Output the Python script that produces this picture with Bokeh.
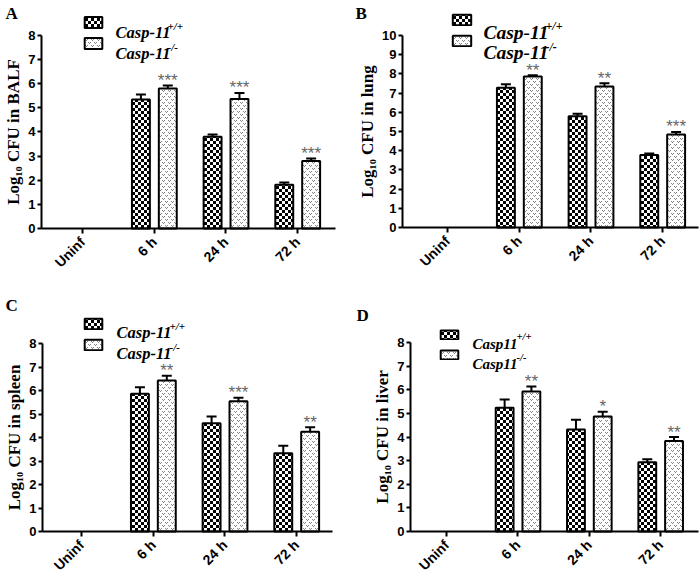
import math
import base64
import struct
import zlib
from bokeh.plotting import figure
from bokeh.layouts import column, row
from bokeh.models import (ColumnDataSource, Whisker, TeeHead, Legend, LegendItem,
                          Label, FixedTicker, ImageURLTexture, Range1d)
from bokeh.core.properties import value
from bokeh.embed import file_html
from bokeh.resources import INLINE

# ---------------- data ----------------
categories = ["Uninf", "6 h", "24 h", "72 h"]
cat_pos = [0, 1, 2, 3]

balf_wt = [0.0, 5.35, 3.80, 1.81]
balf_wt_err = [0.0, 0.20, 0.10, 0.10]
balf_ko = [0.0, 5.80, 5.37, 2.80]
balf_ko_err = [0.0, 0.13, 0.25, 0.10]
balf_sig = ["", "***", "***", "***"]

lung_wt = [0.0, 7.28, 5.80, 3.78]
lung_wt_err = [0.0, 0.18, 0.12, 0.08]
lung_ko = [0.0, 7.86, 7.34, 4.84]
lung_ko_err = [0.0, 0.07, 0.17, 0.14]
lung_sig = ["", "**", "**", "***"]

spleen_wt = [0.0, 5.86, 4.61, 3.33]
spleen_wt_err = [0.0, 0.28, 0.28, 0.32]
spleen_ko = [0.0, 6.43, 5.54, 4.24]
spleen_ko_err = [0.0, 0.20, 0.15, 0.20]
spleen_sig = ["", "**", "***", "**"]

liver_wt = [0.0, 5.24, 4.32, 2.93]
liver_wt_err = [0.0, 0.35, 0.41, 0.13]
liver_ko = [0.0, 5.93, 4.87, 3.83]
liver_ko_err = [0.0, 0.21, 0.20, 0.17]
liver_sig = ["", "**", "*", "**"]

# ---------------- fill textures (tiny PNG tiles) ----------------
PALETTE = {"K": (0, 0, 0), "W": (255, 255, 255), "G": (135, 135, 135)}
checker_tile = ["KKKWWW", "KKKWWW", "KKKWWW", "WWWKKK", "WWWKKK", "WWWKKK"]
dots_tile = ["GWGWWW", "WGWWWW", "WWWWWW", "WWWGWG", "WWWWGW", "WWWWWW"]


def png_uri(tile):
    h = len(tile)
    w = len(tile[0])
    raw = b"".join(b"\x00" + bytes(c for ch in r for c in PALETTE[ch]) for r in tile)

    def chunk(t, d):
        return struct.pack(">I", len(d)) + t + d + struct.pack(">I", zlib.crc32(t + d) & 0xffffffff)

    png = (b"\x89PNG\r\n\x1a\n" + chunk(b"IHDR", struct.pack(">IIBBBBB", w, h, 8, 2, 0, 0, 0))
           + chunk(b"IDAT", zlib.compress(raw)) + chunk(b"IEND", b""))
    return "data:image/png;base64," + base64.b64encode(png).decode()


checker = ImageURLTexture(url=png_uri(checker_tile), repetition="repeat")
dots = ImageURLTexture(url=png_uri(dots_tile), repetition="repeat")

SERIF = "Liberation Serif"
SANS = "Liberation Sans"


def panel(letter, ylabel, ymax, xr, yr, xaxis_bounds, W, H,
          wt, wt_err, ko, ko_err, sig, name,
          leg_loc, glyph_w, glyph_h, leg_spacing,
          txt_x, txt_y, txt_size, sup_x, sup_y, sup_size, letter_xy):
    p = figure(width=W, height=H, x_range=Range1d(*xr), y_range=Range1d(*yr),
               output_backend="svg", toolbar_location=None,
               min_border_left=0, min_border_right=0,
               min_border_top=0, min_border_bottom=0)
    p.outline_line_color = None
    p.grid.visible = False
    p.background_fill_color = "white"
    p.border_fill_color = "white"

    idx = [i for i in range(len(cat_pos)) if wt[i] > 0]
    src_wt = ColumnDataSource(dict(
        x=[cat_pos[i] - 0.185 for i in idx], top=[wt[i] for i in idx],
        lo=[wt[i] - wt_err[i] for i in idx], hi=[wt[i] + wt_err[i] for i in idx]))
    src_ko = ColumnDataSource(dict(
        x=[cat_pos[i] + 0.19 for i in idx], top=[ko[i] for i in idx],
        lo=[ko[i] - ko_err[i] for i in idx], hi=[ko[i] + ko_err[i] for i in idx],
        sig=[sig[i] for i in idx]))

    r1 = p.vbar(x="x", top="top", width=0.25, source=src_wt, fill_color="white",
                line_color="black", line_width=2, hatch_pattern=value("checker"),
                hatch_extra={"checker": checker})
    r2 = p.vbar(x="x", top="top", width=0.25, source=src_ko, fill_color="white",
                line_color="black", line_width=2, hatch_pattern=value("dots"),
                hatch_extra={"dots": dots})
    for src in (src_wt, src_ko):
        p.add_layout(Whisker(base="x", upper="hi", lower="lo", source=src,
                             line_color="black", line_width=2,
                             upper_head=TeeHead(size=10, line_width=2, line_color="black"),
                             lower_head=TeeHead(size=10, line_width=2, line_color="black")))
    p.text(x="x", y="hi", text="sig", source=src_ko, text_align="center",
           text_baseline="alphabetic", y_offset=-5, text_font=value(SANS),
           text_font_size="17px", text_color="#666666")

    # axes, drawn at fixed data positions inside the frame
    xa = p.xaxis[0]
    xa.fixed_location = 0
    xa.bounds = xaxis_bounds
    xa.ticker = FixedTicker(ticks=cat_pos)
    xa.major_label_overrides = {c: t for c, t in zip(cat_pos, categories)}
    xa.major_label_orientation = math.pi / 4
    xa.minor_tick_line_color = None
    xa.major_tick_in = 0
    xa.major_tick_out = 5
    xa.axis_line_width = 2
    xa.major_tick_line_width = 2
    xa.major_label_standoff = 6
    xa.major_label_text_font = SANS
    xa.major_label_text_font_style = "bold"
    xa.major_label_text_font_size = "14px"
    xa.major_label_text_color = "black"

    ya = p.yaxis[0]
    ya.fixed_location = xaxis_bounds[0]
    ya.ticker = FixedTicker(ticks=list(range(0, ymax + 1)))
    ya.bounds = (0, ymax)
    ya.minor_tick_line_color = None
    ya.major_tick_in = 0
    ya.major_tick_out = 4
    ya.axis_line_width = 2
    ya.major_tick_line_width = 2
    ya.major_label_standoff = 2
    ya.major_label_text_font = SANS
    ya.major_label_text_font_style = "bold"
    ya.major_label_text_font_size = "13px"
    ya.major_label_text_color = "black"
    ya.axis_label = ylabel
    ya.axis_label_standoff = 2
    ya.axis_label_text_font = SERIF
    ya.axis_label_text_font_style = "bold"
    ya.axis_label_text_font_size = "17px"
    ya.axis_label_text_color = "black"

    # legend (glyph boxes only; text drawn as labels)
    legend = Legend(items=[LegendItem(label=" ", renderers=[r1]),
                           LegendItem(label=" ", renderers=[r2])],
                    location=leg_loc, orientation="vertical",
                    glyph_width=glyph_w, glyph_height=glyph_h,
                    label_height=glyph_h, label_width=4, label_standoff=0,
                    label_text_font_size="6px", spacing=leg_spacing,
                    padding=0, margin=0, border_line_color=None,
                    background_fill_alpha=0)
    p.add_layout(legend)

    sups = ["+/+", "-/-"]
    for k in range(2):
        p.add_layout(Label(x=txt_x, y=txt_y[k], x_units="screen", y_units="screen",
                           text=name, text_font=SERIF, text_font_style="bold italic",
                           text_font_size=f"{txt_size}px", text_color="black",
                           text_baseline="alphabetic", text_align="left"))
        p.add_layout(Label(x=sup_x, y=sup_y[k], x_units="screen", y_units="screen",
                           text=sups[k], text_font=SERIF, text_font_style="bold italic",
                           text_font_size=f"{sup_size}px", text_color="black",
                           text_baseline="alphabetic", text_align="left"))
    p.add_layout(Label(x=letter_xy[0], y=letter_xy[1], x_units="screen", y_units="screen",
                       text=letter, text_font=SERIF, text_font_style="bold",
                       text_font_size="17px", text_color="black",
                       text_baseline="alphabetic", text_align="left"))
    return p


pa = panel("A", "Log\u2081\u2080 CFU in BALF", 8, (-1.144, 3.739), (-2.363, 9.451),
           (-0.572, 3.53), 350, 285,
           balf_wt, balf_wt_err, balf_ko, balf_ko_err, balf_sig, "Casp-11",
           (82, 235), 22, 14, 7, 115, (253, 232), 16.5, 167, (260, 239), 11, (5, 272))
pb = panel("B", "Log\u2081\u2080 CFU in lung", 10, (-1.353, 3.530), (-3.021, 11.823),
           (-0.628, 3.502), 350, 285,
           lung_wt, lung_wt_err, lung_ko, lung_ko_err, lung_sig, "Casp-11",
           (100, 238), 23, 13, 8, 133, (253.5, 233), 19.5, 195, (260, 239), 12, (5, 272))
pc = panel("C", "Log\u2081\u2080 CFU in spleen", 8, (-1.130, 3.753), (-1.872, 10.468),
           (-0.544, 3.502), 350, 290,
           spleen_wt, spleen_wt_err, spleen_ko, spleen_ko_err, spleen_sig, "Casp-11",
           (82, 224), 22, 13, 8, 116, (243, 222), 16.5, 169, (250, 229), 11, (5, 270))
pd = panel("D", "Log\u2081\u2080 CFU in liver", 8, (-1.346, 3.561), (-1.862, 10.413),
           (-0.505, 3.533), 350, 290,
           liver_wt, liver_wt_err, liver_ko, liver_ko_err, liver_sig, "Casp11",
           (88, 215), 22, 11, 9, 122, (232, 212), 15, 166, (239, 218), 10.5, (6, 260))

layout = column(row(pa, pb), row(pc, pd))
open("out.html", "w").write(file_html(layout, INLINE))
